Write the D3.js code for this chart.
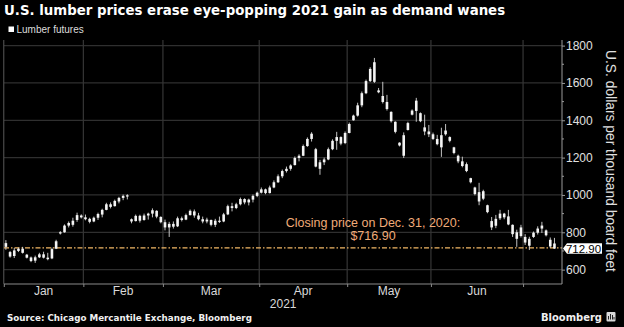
<!DOCTYPE html>
<html><head><meta charset="utf-8">
<script src="https://cdn.jsdelivr.net/npm/d3@7"></script>
<style>html,body{margin:0;padding:0;background:#000;overflow:hidden}</style>
</head><body><svg id="c" width="624" height="327"></svg>
<script>
// ---- DATA ----
const dates = [
"2021-01-04","2021-01-05","2021-01-06","2021-01-07","2021-01-08","2021-01-11","2021-01-12","2021-01-13","2021-01-14","2021-01-15",
"2021-01-19","2021-01-20","2021-01-21","2021-01-22","2021-01-25","2021-01-26","2021-01-27","2021-01-28","2021-01-29",
"2021-02-01","2021-02-02","2021-02-03","2021-02-04","2021-02-05","2021-02-08","2021-02-09","2021-02-10","2021-02-11","2021-02-12",
"2021-02-16","2021-02-17","2021-02-18","2021-02-19","2021-02-22","2021-02-23","2021-02-24","2021-02-25","2021-02-26",
"2021-03-01","2021-03-02","2021-03-03","2021-03-04","2021-03-05","2021-03-08","2021-03-09","2021-03-10","2021-03-11","2021-03-12",
"2021-03-15","2021-03-16","2021-03-17","2021-03-18","2021-03-19","2021-03-22","2021-03-23","2021-03-24","2021-03-25","2021-03-26",
"2021-03-29","2021-03-30","2021-03-31",
"2021-04-01","2021-04-05","2021-04-06","2021-04-07","2021-04-08","2021-04-09","2021-04-12","2021-04-13","2021-04-14","2021-04-15",
"2021-04-16","2021-04-19","2021-04-20","2021-04-21","2021-04-22","2021-04-23","2021-04-26","2021-04-27","2021-04-28","2021-04-29","2021-04-30",
"2021-05-03","2021-05-04","2021-05-05","2021-05-06","2021-05-07","2021-05-10","2021-05-11","2021-05-12","2021-05-13","2021-05-14",
"2021-05-17","2021-05-18","2021-05-19","2021-05-20","2021-05-21","2021-05-24","2021-05-25","2021-05-26","2021-05-27","2021-05-28",
"2021-06-01","2021-06-02","2021-06-03","2021-06-04","2021-06-07","2021-06-08","2021-06-09","2021-06-10","2021-06-11",
"2021-06-14","2021-06-15","2021-06-16","2021-06-17","2021-06-18","2021-06-21","2021-06-22","2021-06-23","2021-06-24","2021-06-25",
"2021-06-28","2021-06-29","2021-06-30",
"2021-07-01","2021-07-02","2021-07-06","2021-07-07","2021-07-08","2021-07-09","2021-07-12","2021-07-13"];

const open  = [722,694,673,700,712,680,665,648,666,682,664,660,712,795,800,836,840,866,890,
880,872,858,878,895,920,950,940,965,984,992,870,860,888,866,890,900,915,882,
854,826,845,832,875,868,892,912,890,870,858,866,840,862,858,896,940,930,950,978,960,975,995,
1012,1030,1010,1040,1068,1100,1128,1140,1160,1198,1210,1262,1300,1245,1140,1175,1190,1245,1290,1310,1278,
1332,1400,1425,1480,1545,1610,1711,1560,1530,1498,1445,1392,1280,1210,1348,1430,1450,1438,1362,1340,
1325,1300,1255,1325,1310,1255,1210,1180,1165,1090,1040,1015,1020,945,860,835,875,900,885,840,800,780,
775,765,775,798,820,810,760,740];
const high  = [758,700,716,718,722,684,670,675,690,696,690,718,760,806,842,858,878,905,896,
895,878,884,905,926,958,960,975,990,1002,1004,874,895,894,900,905,928,918,886,
868,856,858,884,884,900,922,922,904,884,878,868,872,884,904,948,958,958,986,982,980,1002,1018,
1040,1034,1050,1078,1110,1136,1152,1164,1206,1218,1270,1308,1336,1252,1188,1200,1254,1298,1338,1314,1340,
1388,1430,1494,1554,1618,1684,1734,1573,1606,1536,1448,1394,1282,1335,1392,1458,1520,1442,1430,1375,
1334,1322,1360,1380,1314,1258,1216,1205,1174,1092,1044,1065,1028,948,882,893,920,904,920,842,814,840,
790,776,804,832,856,815,772,770];
const low   = [706,664,662,694,686,660,640,636,662,660,650,656,710,788,798,826,830,856,874,
864,848,854,866,880,918,928,938,955,972,976,848,858,852,862,868,880,875,848,
810,775,820,828,858,865,890,878,864,848,848,832,828,850,854,892,912,924,944,950,944,960,988,
1008,1004,1008,1036,1064,1090,1120,1130,1158,1180,1208,1258,1286,1148,1108,1160,1186,1240,1242,1266,1272,
1330,1398,1420,1470,1540,1605,1600,1545,1490,1452,1388,1330,1260,1198,1345,1426,1392,1390,1320,1310,
1294,1266,1204,1318,1282,1218,1170,1148,1122,1062,998,945,972,902,812,822,866,870,838,775,722,772,
732,705,770,788,796,778,716,712];
const close = [742,670,703,712,690,664,646,666,682,664,656,710,752,800,836,850,862,892,880,
870,856,878,898,920,950,936,968,984,995,998,858,888,862,890,900,918,884,854,
826,845,830,875,866,892,915,890,870,858,868,840,862,858,896,940,930,950,978,960,975,995,1012,
1030,1010,1040,1068,1100,1128,1140,1158,1198,1210,1262,1300,1328,1152,1175,1190,1245,1290,1310,1275,1332,
1380,1425,1480,1545,1610,1675,1606,1550,1498,1460,1395,1338,1265,1320,1385,1452,1505,1395,1340,1325,
1300,1272,1320,1345,1290,1225,1180,1155,1128,1068,1005,965,980,908,826,872,900,880,842,790,765,826,
745,728,798,820,836,784,724,712.9];

const yTickValues   = [600, 800, 1000, 1200, 1400, 1600, 1800];
const yMinorValues  = [700, 900, 1100, 1300, 1500, 1700];
const monthLabels   = ["Jan", "Feb", "Mar", "Apr", "May", "Jun"];
const yearLabel     = "2021";
const refClose      = 716.90;
const refLabel      = ["Closing price on Dec. 31, 2020:", "$716.90"];
const seriesName    = "Lumber futures";
const titleText     = "U.S. lumber prices erase eye-popping 2021 gain as demand wanes";
const yTitle        = "U.S. dollars per thousand board feet";
const sourceText    = "Source: Chicago Mercantile Exchange, Bloomberg";

// ---- LAYOUT ----
const svg = d3.select("#c");
svg.append("rect").attr("width",624).attr("height",327).attr("fill","#000");
const P = {left:4, right:562, top:40, bottom:284};
const x = d3.scaleLinear().domain([-0.45, 132.8]).range([P.left, P.right]);
const y = d3.scaleLinear().domain([523, 1830]).range([P.bottom, P.top]);
const FONT = "'Liberation Sans', Arial, sans-serif";
const BOLD = "'DejaVu Sans', Verdana, sans-serif";

function fit(sel, target){
  const w = sel.node().getComputedTextLength();
  const fs = parseFloat(sel.attr("font-size"));
  sel.attr("font-size", (fs*target/w).toFixed(2));
}

const data = dates.map((d,i)=>({i, date:d3.timeParse("%Y-%m-%d")(d), o:open[i], h:high[i], l:low[i], c:close[i]}));

// month boundaries
const bounds = [];
data.forEach((d,i)=>{ if(i===0 || d.date.getMonth()!==data[i-1].date.getMonth()) bounds.push(i-0.5); });

// gridlines
svg.append("g").selectAll("line").data(yTickValues).join("line")
  .attr("x1",P.left).attr("x2",P.right).attr("y1",d=>y(d)).attr("y2",d=>y(d))
  .attr("stroke","#2f2f2f").attr("stroke-width",1.2);
svg.append("g").selectAll("line").data(bounds.slice(1)).join("line")
  .attr("x1",d=>x(d)).attr("x2",d=>x(d)).attr("y1",P.top).attr("y2",P.bottom)
  .attr("stroke","#363636").attr("stroke-width",1.2);
svg.append("line").attr("x1",x(bounds[0])).attr("x2",x(bounds[0])).attr("y1",P.top).attr("y2",P.bottom)
  .attr("stroke","#5a5a5a").attr("stroke-width",1);

// reference dashed line
svg.append("line").attr("x1",P.left).attr("x2",P.right).attr("y1",y(refClose)).attr("y2",y(refClose))
  .attr("stroke","#f2b866").attr("stroke-width",1.3).attr("stroke-dasharray","5,2,1.5,2");

// candles
const cg = svg.append("g");
const bw = 2.6;
cg.selectAll("line").data(data).join("line")
  .attr("x1",d=>x(d.i)).attr("x2",d=>x(d.i)).attr("y1",d=>y(d.h)).attr("y2",d=>y(d.l))
  .attr("stroke","#d8d8d8").attr("stroke-width",0.9);
cg.selectAll("rect").data(data).join("rect")
  .attr("x",d=>x(d.i)-bw/2).attr("width",bw)
  .attr("y",d=>y(Math.max(d.o,d.c)))
  .attr("height",d=>Math.max(1.2, y(Math.min(d.o,d.c))-y(Math.max(d.o,d.c))))
  .attr("fill","#f4f4f4");

// bottom axis
const xa = svg.append("g").attr("transform",`translate(0,${P.bottom})`)
  .call(d3.axisBottom(x).tickValues(bounds).tickSize(3).tickFormat(""));
xa.select(".domain").attr("stroke","#8a8a8a").attr("d",`M${P.left},0H${P.right}`);
xa.selectAll(".tick line").attr("stroke","#8a8a8a");
const mids = bounds.slice(0, monthLabels.length).map((b,k)=>(x(b)+x(bounds[k+1]))/2);
svg.append("g").selectAll("text").data(monthLabels).join("text")
  .attr("x",(d,k)=>mids[k]).attr("y",295).attr("text-anchor","middle")
  .attr("font-family",FONT).attr("font-size",12).attr("fill","#d9d9d9").text(d=>d);
svg.append("text").attr("x",(mids[2]+mids[3])/2+26).attr("y",308).attr("text-anchor","middle")
  .attr("font-family",FONT).attr("font-size",12).attr("fill","#d9d9d9").text(yearLabel);

// right axis
const ya = svg.append("g").attr("transform",`translate(${P.right},0)`)
  .call(d3.axisRight(y).tickValues(yTickValues).tickSize(3).tickPadding(1).tickFormat(d3.format("d")));
ya.select(".domain").attr("stroke","#9a9a9a").attr("d",`M0,${P.top}V${P.bottom}`);
ya.selectAll(".tick line").attr("stroke","#9a9a9a");
ya.selectAll(".tick text").attr("font-family",FONT).attr("font-size",12).attr("fill","#e0e0e0");
svg.append("g").selectAll("line").data(yMinorValues).join("line")
  .attr("x1",P.right).attr("x2",P.right+2).attr("y1",d=>y(d)).attr("y2",d=>y(d))
  .attr("stroke","#9a9a9a");

// last price tag
const lp = close[close.length-1];
const ly = y(lp);
svg.append("path").attr("d",`M${P.right+1},${ly} L${P.right+5},${ly-5.3} H602 V${ly+5.3} H${P.right+5} Z`).attr("fill","#fff");
svg.append("text").attr("x",583.5).attr("y",ly+4).attr("text-anchor","middle")
  .attr("font-family",FONT).attr("font-size",11.5).attr("fill","#000").text(d3.format(".2f")(lp));

// annotation
const ry = y(refClose);
svg.append("text").attr("x",373).attr("y",ry-21).attr("text-anchor","middle")
  .attr("font-family",FONT).attr("font-size",12.5).attr("fill","#f0ab78").text(refLabel[0]);
svg.append("text").attr("x",373).attr("y",ry-8).attr("text-anchor","middle")
  .attr("font-family",FONT).attr("font-size",12.5).attr("fill","#f0ab78").text(refLabel[1]);

// y title
const yt = svg.append("text").attr("transform","translate(606,161) rotate(90)").attr("text-anchor","middle")
  .attr("font-family",FONT).attr("font-size",14).attr("fill","#e0e0e0").text(yTitle);
fit(yt, 222);

// title
const tt = svg.append("text").attr("x",4).attr("y",14.5).attr("font-family",BOLD).attr("font-weight","bold")
  .attr("font-size",14).attr("fill","#fff").text(titleText);
fit(tt, 501);

// legend
svg.append("rect").attr("x",8.5).attr("y",26.5).attr("width",5.5).attr("height",5.5).attr("fill","#fff");
svg.append("text").attr("x",16.5).attr("y",32.5).attr("font-family",FONT).attr("font-size",10)
  .attr("fill","#dcdcdc").text(seriesName);

// footer
const st = svg.append("text").attr("x",7).attr("y",321).attr("font-family",BOLD).attr("font-weight","bold")
  .attr("font-size",10.5).attr("fill","#f0f0f0").text(sourceText);
fit(st, 245);
const bt = svg.append("text").attr("x",541).attr("y",321).attr("font-family",BOLD).attr("font-weight","bold")
  .attr("font-size",13).attr("fill","#f0f0f0").text("Bloomberg");
fit(bt, 61);
svg.append("rect").attr("x",606.5).attr("y",312).attr("width",9).attr("height",9.5).attr("rx",1).attr("fill","#d8d8d8");
svg.append("path").attr("d","M608.5,319.5 V316 M610.5,319.5 V314 M612.5,319.5 V315 M614,319.5 V317").attr("stroke","#222").attr("stroke-width",1);
</script></body></html>
